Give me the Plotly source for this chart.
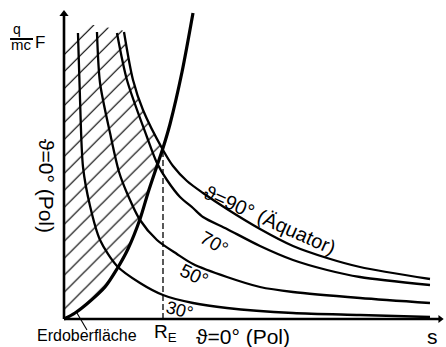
import numpy as np
import plotly.graph_objects as go

# ---- data (s in units of R_E, F in arbitrary units) ----
R_E = 1.0

s_90 = [0.606, 0.697, 0.798, 1.0, 1.101, 1.242, 1.404, 1.646, 1.980, 2.313, 2.657, 2.990, 3.697]
F_90 = [2.87, 2.39, 2.09, 1.69, 1.53, 1.38, 1.26, 1.10, 0.90, 0.73, 0.61, 0.52, 0.40]

s_70 = [0.535, 0.636, 0.838, 0.939, 1.040, 1.172, 1.303, 1.404, 1.646, 1.980, 2.313, 2.657, 2.990, 3.697]
F_70 = [2.86, 2.39, 1.82, 1.56, 1.39, 1.22, 1.11, 1.02, 0.90, 0.73, 0.59, 0.49, 0.42, 0.34]

s_50 = [0.333, 0.364, 0.465, 0.556, 0.636, 0.768, 0.939, 1.141, 1.303, 1.646, 1.980, 2.313, 2.990, 3.697]
F_50 = [2.87, 2.36, 1.86, 1.47, 1.26, 0.99, 0.79, 0.65, 0.55, 0.42, 0.32, 0.27, 0.21, 0.16]

s_30 = [0.141, 0.162, 0.192, 0.263, 0.364, 0.535, 0.768, 1.0, 1.303, 1.646, 2.313, 2.990, 3.697]
F_30 = [2.86, 2.19, 1.52, 1.13, 0.79, 0.53, 0.36, 0.24, 0.16, 0.11, 0.06, 0.04, 0.02]

# Erdoberfläche (thick boundary curve)
s_earth = [0.0, 0.111, 0.242, 0.414, 0.535, 0.646, 0.768, 0.848, 0.939, 1.0, 1.071, 1.192, 1.303]
F_earth = [0.0, 0.06, 0.16, 0.32, 0.50, 0.70, 1.00, 1.26, 1.53, 1.71, 1.95, 2.47, 3.06]

# upper edge of hatched area
s_hatch_top = [0.0, 0.242, 0.404, 0.586]
F_hatch_top = [2.79, 2.95, 2.92, 2.89]

S_MAX = 3.80   # end of s axis
F_MAX = 3.05   # end of F axis

FONT = "Liberation Sans, DejaVu Sans, sans-serif"

fig = go.Figure()

# hatched region: y-axis -> top edge -> 90° curve down to R_E -> Erdoberfläche down to origin
hx = [0.0] + s_hatch_top + [s for s in s_90 if s <= R_E] + [s for s in s_earth[::-1] if s < R_E]
hy = [0.0] + F_hatch_top + [f for s, f in zip(s_90, F_90) if s <= R_E] + \
     [f for s, f in zip(s_earth[::-1], F_earth[::-1]) if s < R_E]
fig.add_trace(go.Scatter(
    x=hx, y=hy, mode="lines", fill="toself", fillcolor="rgba(0,0,0,0)",
    line=dict(width=0),
    fillpattern=dict(shape="/", size=12, solidity=0.1, fgcolor="black",
                     bgcolor="rgba(0,0,0,0)", fillmode="replace"),
    hoverinfo="skip"))

# field curves
for sx, fy in [(s_30, F_30), (s_50, F_50), (s_70, F_70), (s_90, F_90)]:
    fig.add_trace(go.Scatter(x=sx, y=fy, mode="lines",
                             line=dict(color="black", width=2.3, shape="spline", smoothing=0.8),
                             hoverinfo="skip"))

# Erdoberfläche curve
fig.add_trace(go.Scatter(x=s_earth, y=F_earth, mode="lines",
                         line=dict(color="black", width=3.2, shape="spline", smoothing=0.8),
                         hoverinfo="skip"))

# dashed R_E line
F_at_RE = float(np.interp(R_E, s_90, F_90))
fig.add_trace(go.Scatter(x=[R_E, R_E], y=[0, F_at_RE], mode="lines",
                         line=dict(color="black", width=1.3, dash="6px,3px"),
                         hoverinfo="skip"))

# axes
fig.add_trace(go.Scatter(x=[0, S_MAX], y=[0, 0], mode="lines",
                         line=dict(color="black", width=2.6), hoverinfo="skip"))
fig.add_trace(go.Scatter(x=[0, 0], y=[0, F_MAX], mode="lines",
                         line=dict(color="black", width=2.6), hoverinfo="skip"))
fig.add_trace(go.Scatter(x=[0], y=[F_MAX], mode="markers",
                         marker=dict(symbol="triangle-up", size=8, color="black"),
                         hoverinfo="skip"))
fig.add_trace(go.Scatter(x=[S_MAX], y=[0], mode="markers",
                         marker=dict(symbol="triangle-right", size=7, color="black"),
                         hoverinfo="skip"))

# leader line for "Erdoberfläche"
fig.add_trace(go.Scatter(x=[0.131, 0.232], y=[0.06, -0.11], mode="lines",
                         line=dict(color="black", width=1.1), hoverinfo="skip"))

def txt(x, y, t, size, angle=0, yanchor="middle"):
    fig.add_annotation(x=x, y=y, xref="x", yref="y", text=t, showarrow=False,
                       textangle=angle, font=dict(family=FONT, size=size, color="black"),
                       xanchor="center", yanchor=yanchor, borderpad=0)

txt(2.081, 0.99, "ϑ=90° (Äquator)", 20, 24)
txt(1.525, 0.76, "70°", 19, 30)
txt(1.323, 0.44, "50°", 19, 25)
txt(1.162, 0.09, "30°", 18, 15)
txt(-0.172, 1.33, "ϑ=0° (Pol)", 21, 90)
txt(0.232, -0.16, "Erdoberfläche", 16)
txt(1.03, -0.14, "R<sub>E</sub>", 19)
txt(1.808, -0.17, "ϑ=0° (Pol)", 21)
txt(3.727, -0.17, "s", 21)
# q/(mc) F
txt(-0.475, 2.90, "q", 14)
txt(-0.434, 2.745, "mc", 15)
txt(-0.242, 2.765, "F", 17)
fig.add_shape(type="line", xref="x", yref="y", x0=-0.545, x1=-0.313, y0=2.80, y1=2.80,
              line=dict(color="black", width=2))

fig.update_layout(
    width=446, height=347, margin=dict(l=0, r=0, t=0, b=0),
    paper_bgcolor="white", plot_bgcolor="white", showlegend=False,
    xaxis=dict(visible=False, range=[-0.6465, 3.8586], fixedrange=True),
    yaxis=dict(visible=False, range=[-0.28, 3.19], fixedrange=True),
)

fig.write_html("out.html")
